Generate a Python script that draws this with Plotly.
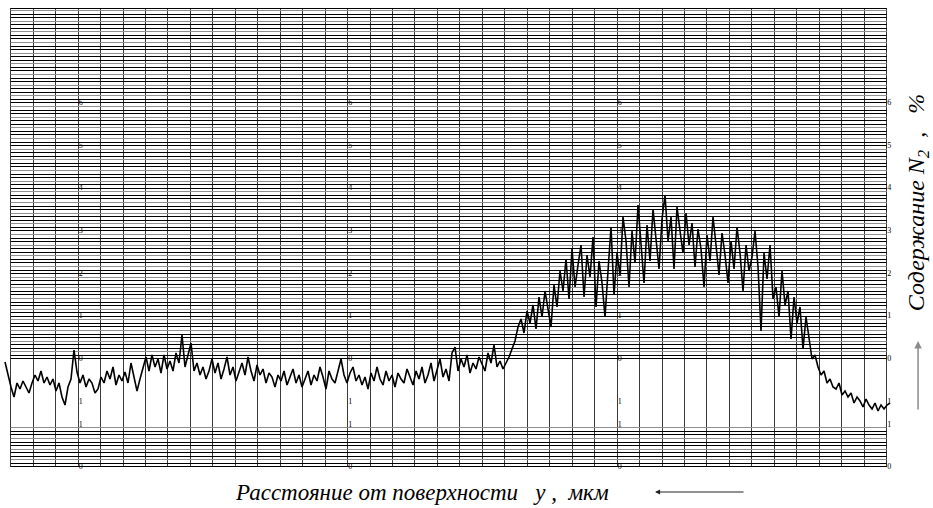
import math
import numpy as np
import plotly.graph_objects as go

# ---- data (arbitrary units: 1 unit = 1 px above the bottom border) ----
nitrogen = [
    105, 92, 80, 70, 84, 78, 86, 80, 74, 84,
    92, 86, 96, 84, 90, 82, 88, 76, 84, 70,
    62, 80, 88, 117, 95, 84, 92, 80, 88, 84,
    74, 78, 90, 84, 96, 88, 100, 82, 92, 86,
    95, 84, 104, 90, 76, 88, 98, 110, 96, 112,
    100, 108, 94, 112, 98, 106, 96, 114, 104, 132,
    100, 112, 124, 96, 104, 92, 100, 88, 96, 108,
    94, 104, 88, 98, 110, 92, 100, 86, 96, 104,
    92, 110, 96, 86, 102, 92, 98, 84, 94, 90,
    80, 92, 86, 96, 82, 90, 98, 84, 92, 80,
    88, 96, 82, 92, 86, 100, 90, 78, 96, 88,
    84, 96, 108, 92, 84, 94, 100, 86, 92, 82,
    90, 78, 94, 86, 100, 88, 82, 96, 86, 92,
    80, 94, 88, 84, 98, 90, 82, 96, 88, 100,
    84, 92, 104, 86, 96, 108, 90, 98, 86, 114,
    120, 96, 108, 100, 112, 94, 104, 98, 110, 102,
    96, 114, 104, 122, 100, 106, 98, 104, 110, 118,
    126, 140, 148, 134, 156, 144, 162, 138, 170, 150,
    176, 158, 140, 182, 160, 196, 176, 208, 168, 218,
    180, 202, 222, 170, 212, 190, 230, 160, 206, 184,
    150, 196, 240, 172, 214, 192, 250, 226, 180, 236,
    204, 262, 222, 184, 242, 206, 258, 230, 198, 248,
    272, 226, 250, 198, 260, 236, 214, 254, 222, 244,
    200, 238, 218, 180, 232, 206, 250, 222, 192, 234,
    212, 184, 226, 198, 240, 214, 176, 222, 196, 210,
    236, 200, 136, 214, 188, 222, 168, 180, 150, 196,
    162, 176, 128, 170, 144, 160, 118, 150, 130, 108,
    112, 100, 92, 96, 84, 88, 80, 78, 84, 72,
    76, 70, 74, 64, 70, 66, 60, 68, 62, 58,
    64, 56, 62, 58, 62, 64,
]
x_first, x_last = -0.254, 39.15            # distance axis, in chart divisions
distance = np.linspace(x_first, x_last, len(nitrogen))

tick_divisions = [3, 15, 27, 39]            # divisions carrying the small scale marks
tick_levels = [364.0, 321.3, 278.7, 236.0, 193.3, 150.7, 108.0, 65.3, 42.0, 0.0]
tick_texts = ["6", "5", "4", "3", "2", "1", "0", "1", "1", "0"]

x_title = "Расстояние от поверхности&nbsp;&nbsp;&nbsp;y&nbsp;,&nbsp;&nbsp;мкм"
y_title = "Содержание&nbsp;N<sub>2</sub>&nbsp;&nbsp;,&nbsp;&nbsp;&nbsp;%"

# ---- chart-paper grid ----
Y_TOP = 459.0
X_MIN, X_MAX = 0, 39
major = 42.67
step = major / 12
upper = [108 + i * step for i in range(200) if 108 + i * step <= Y_TOP - 1]
lower = [i * step for i in range(20) if i * step <= 41]
raw = sorted(set(lower + upper))
levels = sorted(set([math.floor(v) + 0.5 for v in raw] + [0.5, Y_TOP - 0.5]))

def seg(vals):
    xs, ys = [], []
    for v in vals:
        xs += [X_MIN, X_MAX, None]
        ys += [v, v, None]
    return xs, ys

dark = [v for i, v in enumerate(levels) if i % 3 != 2 or v in (0.5, Y_TOP - 0.5)]
light = [v for v in levels if v not in dark]

fig = go.Figure()
for vals, col, w in ((light, "#8f8f8f", 1.0), (dark, "#000000", 1.0)):
    gx, gy = seg(vals)
    fig.add_trace(go.Scatter(x=gx, y=gy, mode="lines", line=dict(color=col, width=w),
                             hoverinfo="skip", showlegend=False))

# small marks along main divisions
mx, my, mt = [], [], []
for d in tick_divisions:
    for lv, tx in zip(tick_levels, tick_texts):
        mx.append(d + 0.12)
        my.append(lv)
        mt.append(tx)
fig.add_trace(go.Scatter(x=mx, y=my, mode="text", text=mt,
                         textfont=dict(size=8, color="#000", family="Liberation Serif"),
                         cliponaxis=False, hoverinfo="skip", showlegend=False))

fig.add_trace(go.Scatter(x=distance, y=nitrogen, mode="lines",
                         line=dict(color="black", width=1.6), showlegend=False))

fig.update_xaxes(range=[-0.343, 39.327], tickmode="array", tickvals=list(range(X_MIN, X_MAX + 1)),
                 showgrid=True, gridcolor="#3a3a3a", gridwidth=1, showticklabels=False,
                 zeroline=False, showline=False, ticks="")
fig.update_yaxes(range=[0, Y_TOP], showgrid=False, showticklabels=False,
                 zeroline=False, showline=False, ticks="")

fig.update_layout(
    width=933, height=508,
    margin=dict(l=3, r=39, t=8, b=41),
    paper_bgcolor="white", plot_bgcolor="white",
    annotations=[
        dict(text=x_title, xref="paper", yref="paper", x=0.470, y=-0.0545,
             xanchor="center", yanchor="middle",
             showarrow=False, font=dict(family="Liberation Serif", size=23, style="italic", color="black")),
        dict(text="", xref="paper", yref="paper", x=0.7318, y=-0.0545, ax=90, ay=0,
             showarrow=True, arrowhead=2, arrowsize=1, arrowwidth=1, arrowcolor="#222"),
        dict(text=y_title, xref="paper", yref="paper", x=1.027, y=0.575, textangle=-90,
             xanchor="center", yanchor="middle",
             showarrow=False, font=dict(family="Liberation Serif", size=24, style="italic", color="black")),
        dict(text="", xref="paper", yref="paper", x=1.027, y=0.2745, ax=0, ay=70,
             showarrow=True, arrowhead=2, arrowsize=1, arrowwidth=1.5, arrowcolor="#8a8a8a"),
    ],
)

fig.write_html("out.html")
